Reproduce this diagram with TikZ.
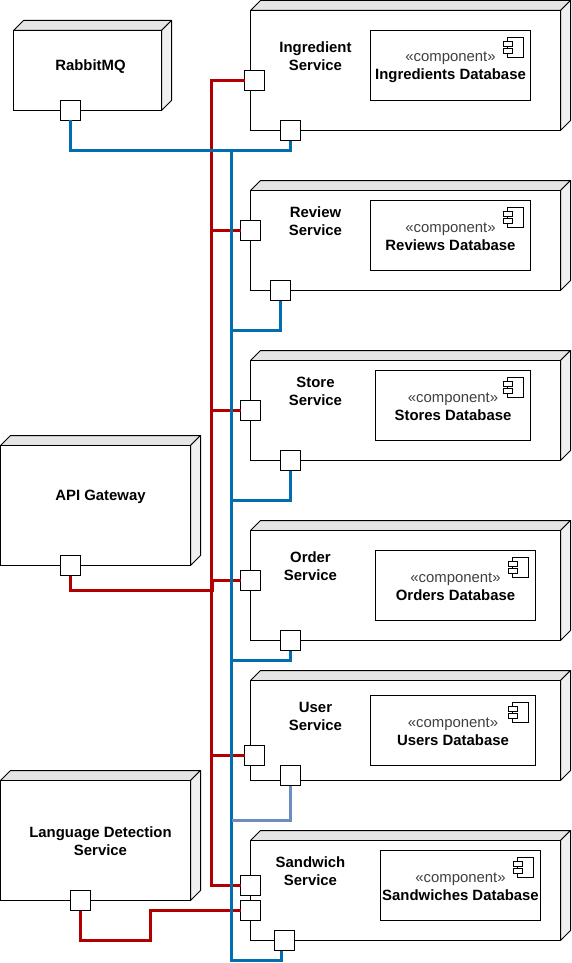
\documentclass[tikz,border=0pt]{standalone}
\usepackage{fontspec}
\setmainfont{Liberation Sans}
\definecolor{wred}{HTML}{B20000}
\definecolor{wblue}{HTML}{006EAF}
\definecolor{wpale}{HTML}{6C8EBF}
\tikzset{x=1pt,y=-1pt,
  box/.style={draw=black,line width=1pt,fill=white},
  top/.style={draw=black,line width=1pt,fill=black!10,line join=round},
  side/.style={draw=black,line width=1pt,fill=black!6,line join=round},
  portbox/.style={draw=black,line width=1pt,fill=white,minimum size=20pt,inner sep=0pt,outer sep=0pt},
  label/.style={font=\fontsize{14.9}{18}\selectfont\bfseries,align=center,inner sep=0pt,text=black},
  complabel/.style={font=\fontsize{14.9}{18}\selectfont,align=center,inner sep=0pt,text=black},
  redwire/.style={draw=wred,line width=3pt},
  bluewire/.style={draw=wblue,line width=3pt},
  palewire/.style={draw=wpale,line width=3pt}
}
% #1 name #2 x1 #3 y1 #4 x2 #5 y2
\newcommand{\cube}[5]{%
  \fill[top] (#2,#3) -- ++(10,-10) -- (#4+10,#3-10) -- (#4,#3) -- cycle;
  \fill[side] (#4,#3) -- (#4+10,#3-10) -- (#4+10,#5-10) -- (#4,#5) -- cycle;
  \node[box,minimum width=#4pt-#2pt,minimum height=#5pt-#3pt,inner sep=0pt,outer sep=0pt,anchor=north west] (#1) at (#2,#3) {};
}
% component box: #1 name #2 x1 #3 y1 #4 x2 #5 y2 #6 text
\newcommand{\compo}[6]{%
  \node[box,minimum width=#4pt-#2pt,minimum height=#5pt-#3pt,inner sep=0pt,outer sep=0pt,anchor=north west] (#1) at (#2,#3) {};
  \node[complabel] (#1t) at ({(#2+#4)/2},#3+36.5) {\textcolor{black!75}{«component»}\\\bfseries #6};
  \draw[box] (#4-23,#3+7) rectangle (#4-7,#3+27);
  \draw[box] (#4-27,#3+11) rectangle (#4-18,#3+16);
  \draw[box] (#4-27,#3+18) rectangle (#4-18,#3+23);
}
\begin{document}
\begin{tikzpicture}
\useasboundingbox (0,0) rectangle (571,963);
\begin{scope}[shift={(0.5,0.5)}]
\cube{rabbit}{13}{30}{161}{110}
\cube{api}{0}{445}{190}{565}
\cube{lang}{0}{780}{190}{900}
\cube{ing}{250}{10}{560}{130}
\cube{rev}{250}{190}{560}{290}
\cube{sto}{250}{360}{560}{460}
\cube{ord}{250}{530}{560}{640}
\cube{usr}{250}{680}{560}{780}
\cube{san}{250}{840}{560}{940}

\node[label] (rabbitt) at (90,66) {RabbitMQ};
\node[label] (apit) at (100,496) {API Gateway};
\node[label] (langt) at (100,841) {Language Detection\\Service};
\node[label] (ingt) at (315,56) {Ingredient\\Service};
\node[label] (revt) at (315,221) {Review\\Service};
\node[label] (stot) at (315,391) {Store\\Service};
\node[label] (ordt) at (310,566) {Order\\Service};
\node[label] (usrt) at (315,716) {User\\Service};
\node[label] (sant) at (310,871) {Sandwich\\Service};

\compo{ingd}{370}{30}{530}{100}{Ingredients Database}
\compo{revd}{370}{200}{530}{270}{Reviews Database}
\compo{stod}{375}{370}{530}{440}{Stores Database}
\compo{ordd}{375}{550}{535}{620}{Orders Database}
\compo{usrd}{370}{695}{535}{765}{Users Database}
\compo{sand}{380}{850}{540}{920}{Sandwiches Database}

\coordinate (rtop) at (211,80);
\coordinate (rbot) at (211,885);
\coordinate (btop) at (231,150);
\coordinate (bbot) at (231,960);

\node[portbox] (prabbit) at (70,110) {};
\node[portbox] (papi) at (70,565) {};
\node[portbox] (plang) at (80,900) {};
\node[portbox] (pingl) at (254,80) {};
\node[portbox] (pingb) at (290,130) {};
\node[portbox] (prevl) at (250,230) {};
\node[portbox] (prevb) at (280,290) {};
\node[portbox] (pstol) at (250,410) {};
\node[portbox] (pstob) at (290,460) {};
\node[portbox] (pordl) at (250,580) {};
\node[portbox] (pordb) at (290,640) {};
\node[portbox] (pusrl) at (254,755) {};
\node[portbox] (pusrb) at (290,775) {};
\node[portbox] (psanl) at (250,885) {};
\node[portbox] (psanm) at (250,910) {};
\node[portbox] (psanb) at (284,940) {};

% red
\draw[redwire] (pingl.west) -- (rtop) -- (rbot) -- (psanl.west);
\draw[redwire] (prevl.west) -- (211,230);
\draw[redwire] (pstol.west) -- (211,410);
\draw[redwire] (pordl.west) -- (211,580);
\draw[redwire] (pusrl.west) -- (211,755);
\draw[redwire] (papi.south) -- (70,590) -- (212,590) -- (212,580);
\draw[redwire] (plang.south) -- (80,940) -- (150,940) -- (150,910) -- (psanm.west);
% blue
\draw[bluewire] (prabbit.south) -- (70,150) -- (290,150) -- (pingb.south);
\draw[bluewire] (btop) -- (bbot) -- (281,960) -- (281,950);
\draw[bluewire] (prevb.south) -- (280,330) -- (231,330);
\draw[bluewire] (pstob.south) -- (290,500) -- (231,500);
\draw[bluewire] (pordb.south) -- (290,660) -- (231,660);
\draw[palewire] (pusrb.south) -- (290,820) -- (231,820);
\end{scope}
\end{tikzpicture}
\end{document}
